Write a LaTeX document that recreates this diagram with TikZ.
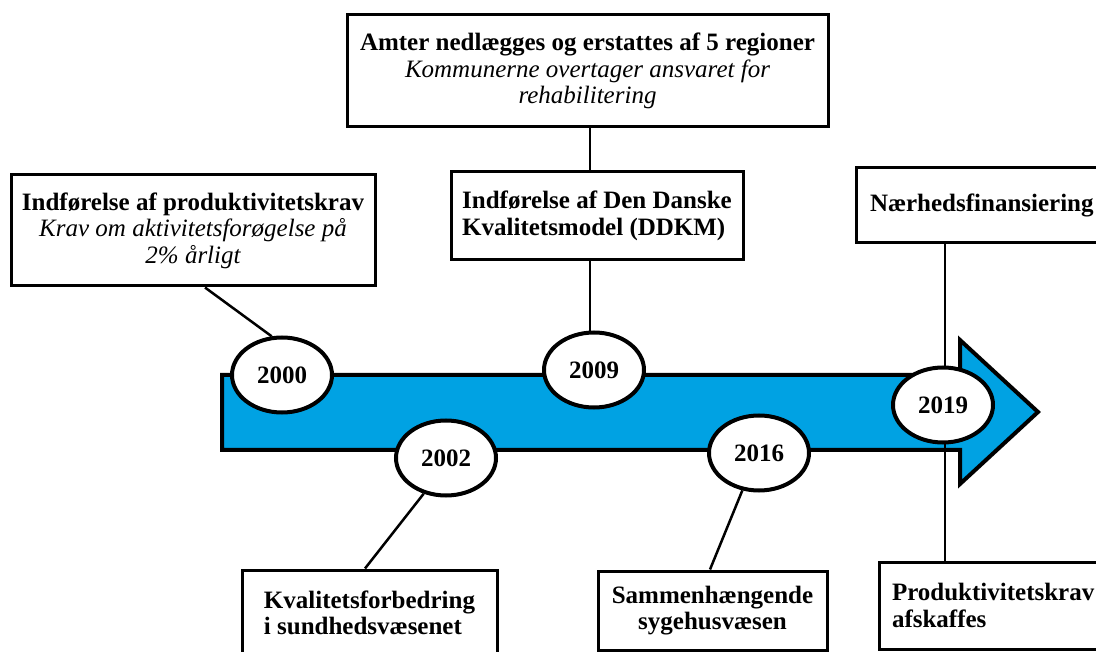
\documentclass[tikz,border=0pt]{standalone}
\usepackage{fontspec}
\setmainfont{Liberation Serif}
\usetikzlibrary{shapes.geometric,calc}
\definecolor{arrowblue}{RGB}{0,162,227}
\pgfdeclarelayer{arrowlayer}
\pgfdeclarelayer{linklayer}
\pgfsetlayers{arrowlayer,linklayer,main}
\begin{document}
\begin{tikzpicture}[x=1pt,y=-1pt,
  box/.style={draw, line width=3pt, fill=white, inner sep=0pt,
    font=\fontsize{25}{26.5}\selectfont\bfseries},
  year/.style={ellipse, draw, line width=4pt, fill=white,
    minimum width=100pt, minimum height=75pt, inner sep=0pt,
    font=\fontsize{25}{26}\selectfont\bfseries},
  link/.style={line width=2.5pt}]
\useasboundingbox (0,0) rectangle (1096,652);

% timeline arrow
\begin{pgfonlayer}{arrowlayer}
\draw[line width=4pt, fill=arrowblue, line join=miter]
  (222,375) -- (960,375) -- (960,340) -- (1038,412) -- (960,484)
  -- (960,450) -- (222,450) -- cycle;
\end{pgfonlayer}

% event boxes
\node[box, minimum width=364pt, minimum height=111pt, align=center] (prodkrav) at (193,230.5)
  {Indførelse af produktivitetskrav\\
   {\normalfont\itshape Krav om aktivitetsforøgelse på}\\
   {\normalfont\itshape 2\% årligt}};
\node[box, minimum width=481pt, minimum height=112pt, align=center] (regioner) at (587.5,71)
  {Amter nedlægges og erstattes af 5 regioner\\
   {\normalfont\itshape Kommunerne overtager ansvaret for}\\
   {\normalfont\itshape rehabilitering}};
\node[box, minimum width=292pt, minimum height=88pt, align=left] (ddkm) at (597,216)
  {Indførelse af Den Danske\\ Kvalitetsmodel (DDKM)};
\node[box, minimum width=264pt, minimum height=75pt, text width=236pt, inner xsep=14pt, align=left] (naerhed) at (988,205.5)
  {Nærhedsfinansiering};
\node[box, minimum width=241pt, minimum height=87pt, text width=215pt, inner xsep=13pt, align=left] (afskaf) at (999.5,605.5)
  {Produktivitetskrav\\ afskaffes};
\node[box, minimum width=255pt, minimum height=86pt, align=left] (kvalitet) at (369.5,613)
  {Kvalitetsforbedring\\ i sundhedsvæsenet};
\node[box, minimum width=229pt, minimum height=79pt, align=center] (sammen) at (712.5,610.5)
  {Sammenhængende\\ sygehusvæsen};

% year markers
\node[year] (y2000) at (282,375) {2000};
\node[year] (y2002) at (446,458) {2002};
\node[year] (y2009) at (594,370) {2009};
\node[year] (y2016) at (759,453) {2016};
\node[year] (y2019) at (943,405) {2019};

% connectors, beneath the markers and boxes
\begin{pgfonlayer}{linklayer}
\draw[link] ([xshift=12pt]prodkrav.south) -- (y2000.105);
\draw[link] ([xshift=2.5pt]regioner.south) -- ([xshift=2.5pt]regioner.south |- ddkm.north);
\draw[link] ([xshift=-7pt]ddkm.south) -- ([xshift=-7pt]ddkm.south |- y2009.center);
\draw[link] ([xshift=-43pt]naerhed.south) -- ([xshift=-43pt]naerhed.south |- afskaf.north);
\draw[link] ([xshift=-4.5pt]kvalitet.north) -- (y2002.238);
\draw[link] ([xshift=-2.5pt]sammen.north) -- (y2016.246);
\end{pgfonlayer}
\end{tikzpicture}
\end{document}
